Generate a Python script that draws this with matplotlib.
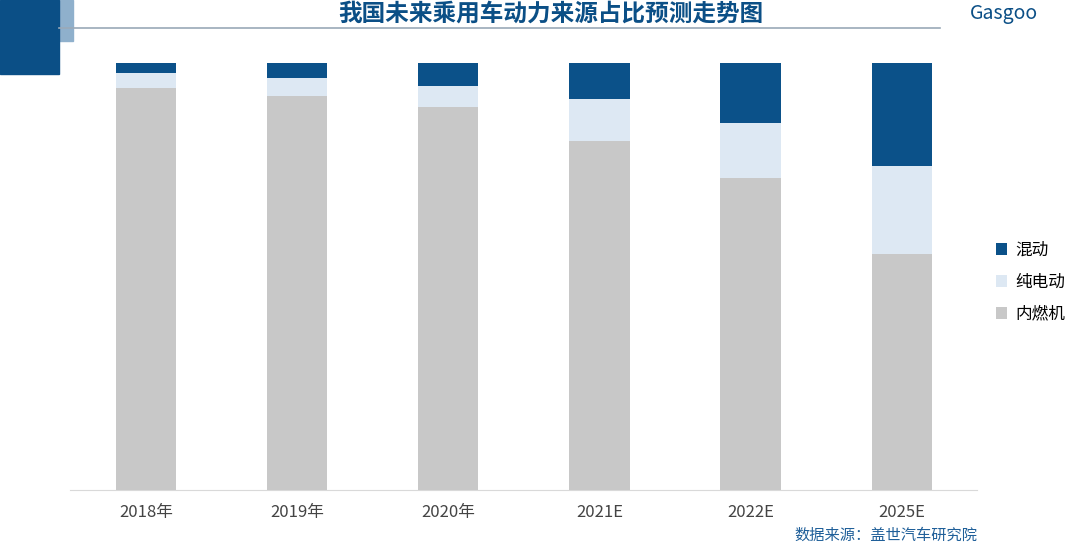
import matplotlib
matplotlib.use("Agg")
import matplotlib.pyplot as plt
from matplotlib.patches import Rectangle

plt.rcParams['font.family'] = ['Noto Sans CJK SC', 'DejaVu Sans']

years = ["2018年", "2019年", "2020年", "2021E", "2022E", "2025E"]
ice = [94.2, 92.3, 89.7, 81.7, 73.1, 55.3]
ev = [3.5, 4.2, 4.9, 9.8, 12.9, 20.6]
hybrid = [2.3, 3.5, 5.4, 8.5, 14.0, 24.1]

fig = plt.figure(figsize=(10.8, 5.48), dpi=100)
ax = fig.add_axes([0.065, 0.105, 0.84, 0.78])

x = range(len(years))
w = 0.4
ax.bar(x, ice, w, color="#c8c8c8", label="内燃机")
ax.bar(x, ev, w, bottom=ice, color="#dde8f3", label="纯电动")
bot2 = [a + b for a, b in zip(ice, ev)]
ax.bar(x, hybrid, w, bottom=bot2, color="#0b5189", label="混动")

ax.set_xlim(-0.5, len(years) - 0.5)
ax.set_ylim(0, 100)
ax.set_yticks([])
ax.set_xticks(list(x))
ax.set_xticklabels(years, fontsize=12, color="#444444")
ax.tick_params(axis="x", length=0, pad=10)
for s in ["top", "left", "right"]:
    ax.spines[s].set_visible(False)
ax.spines["bottom"].set_color("#d9d9d9")

h, l = ax.get_legend_handles_labels()
fig.legend(h[::-1], l[::-1], loc="center left", bbox_to_anchor=(0.908, 0.485),
           frameon=False, fontsize=12, handlelength=0.7, handleheight=0.7,
           labelspacing=0.9, handletextpad=0.5)

# header decorations
fig.patches.append(Rectangle((0.0, 0.865), 0.055, 0.135, transform=fig.transFigure,
                             color="#0b4f86"))
fig.patches.append(Rectangle((0.03, 0.925), 0.038, 0.075, transform=fig.transFigure,
                             color="#8fb0cc", zorder=-1))
fig.lines.append(plt.Line2D([0.055, 0.87], [0.948, 0.948], transform=fig.transFigure,
                            color="#9aa9b8", lw=1.2))
fig.text(0.51, 0.975, "我国未来乘用车动力来源占比预测走势图", ha="center", va="center",
         fontsize=17, fontweight="bold", color="#0b4f86")
fig.text(0.93, 0.975, "Gasgoo", ha="center", va="center", fontsize=14,
         color="#0b4f86", style="italic")
fig.text(0.82, 0.008, "数据来源：盖世汽车研究院", ha="center", va="bottom",
         fontsize=11, color="#1f5f99")

fig.savefig("out.png", dpi=100)
